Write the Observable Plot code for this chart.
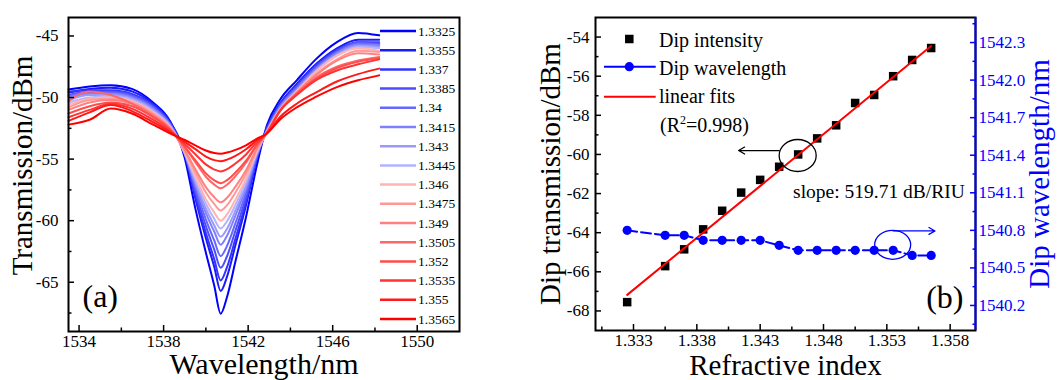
<!DOCTYPE html>
<html><head><meta charset="utf-8">
<script src="https://cdn.jsdelivr.net/npm/d3@7"></script>
<script src="https://cdn.jsdelivr.net/npm/@observablehq/plot@0.6"></script>
<style>
html,body{margin:0;padding:0;background:#fff;}
#wrap{position:relative;width:1063px;height:380px;overflow:hidden;}
#wrap svg{position:absolute;top:0;}
</style></head>
<body><div id="wrap"></div>
<script>
// ---------- Panel (a): transmission spectra ----------
const wavelengthGrid = [1533.5, 1534.5, 1535.5, 1536.5, 1537.5, 1538.3, 1539.0, 1539.5, 1540.0, 1540.4, 1540.7, 1541.0, 1541.4, 1541.9, 1542.4, 1542.9, 1543.5, 1544.3, 1545.2, 1546.2, 1547.2, 1548.2];
const T_13325 = [-49.35, -49.1, -49.0, -49.3, -50.4, -51.9, -54.9, -59.0, -62.6, -65.3, -67.55, -66.2, -63.3, -59.7, -55.6, -52.2, -50.2, -48.6, -46.9, -45.5, -44.75, -44.95];
const T_13355 = [-49.6, -49.3, -49.2, -49.5, -50.5, -51.95, -54.5, -58.17, -61.42, -63.78, -65.71, -64.54, -61.98, -58.75, -55.04, -52.4, -50.5, -48.9, -47.3, -46.0, -45.3, -45.3];
const T_1337  = [-49.5, -49.4, -49.4, -49.7, -50.6, -52.05, -54.56, -57.96, -61.0, -63.16, -64.85, -63.78, -61.46, -58.47, -54.97, -52.45, -50.6, -49.0, -47.4, -46.1, -45.5, -45.5];
const T_13385 = [-49.8, -49.5, -49.5, -49.8, -50.7, -52.1, -54.57, -57.65, -60.44, -62.37, -63.83, -62.89, -60.81, -58.09, -54.88, -52.55, -50.7, -49.1, -47.5, -46.2, -45.5, -45.6];
const T_134   = [-49.9, -49.6, -49.6, -49.9, -50.8, -52.2, -54.56, -57.37, -59.91, -61.63, -62.88, -62.05, -60.2, -57.72, -54.78, -52.6, -50.7, -49.2, -47.6, -46.3, -45.6, -45.7];
const T_13415 = [-50.0, -49.7, -49.7, -50.0, -50.9, -52.2, -54.53, -57.06, -59.38, -60.9, -61.95, -61.22, -59.58, -57.36, -54.66, -52.7, -50.8, -49.3, -47.7, -46.4, -45.7, -45.75];
const T_1343  = [-50.2, -49.8, -49.8, -50.1, -51.0, -52.3, -54.54, -56.87, -59.02, -60.39, -61.3, -60.65, -59.17, -57.12, -54.61, -52.7, -50.9, -49.4, -47.8, -46.5, -45.8, -45.9];
const T_13445 = [-50.4, -50.0, -49.9, -50.2, -51.1, -52.3, -54.5, -56.63, -58.63, -59.87, -60.63, -60.05, -58.72, -56.83, -54.51, -52.7, -51.0, -49.5, -47.9, -46.6, -45.9, -46.0];
const T_1346  = [-50.6, -50.1, -50.0, -50.3, -51.2, -52.4, -54.47, -56.42, -58.25, -59.35, -60.0, -59.49, -58.29, -56.59, -54.43, -52.75, -51.0, -49.5, -47.9, -46.6, -46.0, -46.2];
const T_13475 = [-50.8, -50.2, -50.1, -50.4, -51.3, -52.45, -54.35, -56.07, -57.71, -58.66, -59.18, -58.74, -57.71, -56.2, -54.27, -52.75, -51.0, -49.6, -48.1, -46.9, -46.2, -46.3];
const T_1349  = [-51.0, -50.4, -50.2, -50.5, -51.4, -52.5, -54.28, -55.81, -57.27, -58.1, -58.51, -58.14, -57.24, -55.9, -54.18, -52.8, -51.1, -49.6, -48.2, -47.0, -46.4, -46.5];
const T_13505 = [-50.3, -49.5, -49.8, -50.5, -51.5, -52.55, -54.02, -55.24, -56.43, -57.07, -57.37, -57.08, -56.38, -55.3, -53.9, -52.8, -51.1, -49.7, -48.4, -47.5, -47.0, -46.7];
const T_1352  = [-51.3, -50.7, -50.4, -50.7, -51.6, -52.6, -53.99, -55.09, -56.16, -56.73, -56.96, -56.71, -56.09, -55.13, -53.86, -52.85, -51.1, -49.7, -48.5, -47.6, -47.1, -46.8];
const T_13535 = [-51.6, -51.0, -50.5, -50.9, -51.8, -52.7, -53.77, -54.6, -55.43, -55.85, -56.0, -55.82, -55.36, -54.62, -53.65, -52.85, -51.1, -49.8, -48.6, -47.8, -47.3, -46.9];
const T_1355  = [-51.9, -51.2, -50.6, -51.1, -52.0, -52.8, -53.6, -54.19, -54.79, -55.08, -55.17, -55.04, -54.73, -54.2, -53.49, -52.9, -51.6, -50.5, -49.6, -48.7, -48.1, -47.65];
const T_13565 = [-52.2, -51.8, -50.9, -51.3, -52.2, -52.9, -53.45, -53.88, -54.3, -54.51, -54.56, -54.47, -54.25, -53.88, -53.36, -52.9, -51.8, -50.8, -49.95, -49.15, -48.6, -48.2];
const seriesLabels = ["1.3325","1.3355","1.337","1.3385","1.34","1.3415","1.343","1.3445","1.346","1.3475","1.349","1.3505","1.352","1.3535","1.355","1.3565"];
const xTicksA = [1534, 1538, 1542, 1546, 1550];
const xMinorA = [1536, 1540, 1544, 1548];
const yTicksA = [-45, -50, -55, -60, -65];
const yMinorA = [-47.5, -52.5, -57.5, -62.5, -67.5];

// ---------- Panel (b): dip intensity / wavelength ----------
const refractiveIndex = [1.3325, 1.3355, 1.337, 1.3385, 1.34, 1.3415, 1.343, 1.3445, 1.346, 1.3475, 1.349, 1.3505, 1.352, 1.3535, 1.355, 1.3565];
const dipIntensity = [-67.55, -65.71, -64.85, -63.83, -62.88, -61.95, -61.3, -60.63, -60.0, -59.18, -58.51, -57.37, -56.96, -56.0, -55.17, -54.56];
const dipWavelength = [1540.80, 1540.76, 1540.76, 1540.72, 1540.72, 1540.72, 1540.72, 1540.68, 1540.64, 1540.64, 1540.64, 1540.64, 1540.64, 1540.64, 1540.60, 1540.60];
const fitX = [1.3325, 1.3565];
const fitY = [-67.18, -54.46];
const xTicksB = [1.333, 1.338, 1.343, 1.348, 1.353, 1.358];
const xMinorB = [1.3305, 1.3355, 1.3405, 1.3455, 1.3505, 1.3555];
const yTicksB = [-54, -56, -58, -60, -62, -64, -66, -68];
const yMinorB = [-55, -57, -59, -61, -63, -65, -67];
const yTicksR = [1540.2, 1540.5, 1540.8, 1541.1, 1541.4, 1541.7, 1542.0, 1542.3];
const yMinorR = [1540.05, 1540.35, 1540.65, 1540.95, 1541.25, 1541.55, 1541.85, 1542.15, 1542.45];

// ---------- styles ----------
const seriesColors = ["#0000ff","#1a1aff","#3333ff","#4d4dff","#6666ff","#8080ff","#9999ff","#b3b3ff","#ffb3b3","#ff9999","#ff8080","#ff6666","#ff4d4d","#ff3333","#ff1a1a","#ff0000"];
const FONT = "'Liberation Serif','DejaVu Serif',serif";
const BLUE = "#0000ff";
const xDomainA = [1533.5, 1552], yDomainA = [-69, -43.5];
const xDomainB = [1.330, 1.360], yDomainB = [-69, -53], yDomainR = [1540.0, 1542.5];

const spectra = [T_13325,T_13355,T_1337,T_13385,T_134,T_13415,T_1343,T_13445,T_1346,T_13475,T_1349,T_13505,T_1352,T_13535,T_1355,T_13565];
const specRows = spectra.flatMap((arr, k) => arr.map((t, j) => ({wl: wavelengthGrid[j], t, ri: seriesLabels[k]})));
const intensityRows = refractiveIndex.map((n, i) => ({n, v: dipIntensity[i]}));
const wlRows = refractiveIndex.map((n, i) => ({n, v: dipWavelength[i]}));
const fitRows = fitX.map((x, i) => ({x, y: fitY[i]}));

const wrap = document.getElementById("wrap");
const baseStyle = {background: "transparent", fontFamily: FONT, fontSize: "17px", overflow: "visible"};

// ---- Panel (a)
const svgA = Plot.plot({
  width: 530, height: 380,
  marginLeft: 68, marginRight: 71, marginTop: 17, marginBottom: 49,
  style: {...baseStyle, color: "black"},
  x: {domain: xDomainA},
  y: {domain: yDomainA},
  color: {domain: seriesLabels, range: seriesColors},
  marks: [
    Plot.line(specRows, {x: "wl", y: "t", z: "ri", stroke: "ri", curve: "monotone-x", strokeWidth: 2}),
    Plot.frame({stroke: "black", strokeWidth: 2}),
    Plot.axisX({ticks: xTicksA, tickSize: -6, tickPadding: 9, tickFormat: d => String(d), label: null, fontSize: 17, strokeWidth: 1.5}),
    Plot.axisX({ticks: xMinorA, tickSize: -3.5, tickFormat: () => "", label: null, strokeWidth: 1.5}),
    Plot.axisY({ticks: yTicksA, tickSize: -6, tickPadding: 16, tickFormat: d => String(d), label: null, fontSize: 17, strokeWidth: 1.5}),
    Plot.axisY({ticks: yMinorA, tickSize: -3.5, tickFormat: () => "", label: null, strokeWidth: 1.5}),
    Plot.text(["Wavelength/nm"], {frameAnchor: "bottom", textAnchor: "middle", lineAnchor: "bottom", dy: 42, fontSize: 30}),
    Plot.text(["Transmission/dBm"], {frameAnchor: "left", textAnchor: "middle", lineAnchor: "bottom", rotate: -90, dx: -36.5, dy: -9, fontSize: 29}),
    Plot.text(["(a)"], {frameAnchor: "bottom-left", textAnchor: "start", lineAnchor: "bottom", dx: 14, dy: -25, fontSize: 32})
  ]
});
svgA.style.left = "0px";
wrap.appendChild(svgA);
{
  const g = d3.select(svgA).append("g");
  seriesLabels.forEach((lab, k) => {
    const y = 31 + 19.2 * k;
    g.append("line").attr("x1", 380).attr("x2", 416).attr("y1", y).attr("y2", y)
      .attr("stroke", seriesColors[k]).attr("stroke-width", 2.5);
    g.append("text").attr("x", 418).attr("y", y + 4.5).attr("font-size", 13.5)
      .attr("font-family", FONT).attr("text-anchor", "start").attr("fill", "black").text(lab);
  });
}

// ---- Panel (b), left axis
const svgB = Plot.plot({
  width: 533, height: 380,
  marginLeft: 65, marginRight: 88, marginTop: 17, marginBottom: 50,
  style: {...baseStyle, color: "black"},
  x: {domain: xDomainB},
  y: {domain: yDomainB},
  marks: [
    Plot.frame({stroke: "black", strokeWidth: 2}),
    Plot.dot(intensityRows, {x: "n", y: "v", symbol: "square", fill: "black", r: 4.8}),
    Plot.line(fitRows, {x: "x", y: "y", stroke: "#ff0000", strokeWidth: 2}),
    Plot.arrow([{x1: 1.3445, y1: -59.8, x2: 1.3413, y2: -59.8}], {x1: "x1", y1: "y1", x2: "x2", y2: "y2", stroke: "black", strokeWidth: 1.3, headLength: 8}),
    Plot.axisX({ticks: xTicksB, tickSize: -6, tickPadding: 9, tickFormat: d3.format(".3f"), label: null, fontSize: 17, strokeWidth: 1.5}),
    Plot.axisX({ticks: xMinorB, tickSize: -3.5, tickFormat: () => "", label: null, strokeWidth: 1.5}),
    Plot.axisY({ticks: yTicksB, tickSize: -6, tickPadding: 12, tickFormat: d => String(d), label: null, fontSize: 17, strokeWidth: 1.5}),
    Plot.axisY({ticks: yMinorB, tickSize: -3.5, tickFormat: () => "", label: null, strokeWidth: 1.5}),
    Plot.text(["Refractive index"], {frameAnchor: "bottom", textAnchor: "middle", lineAnchor: "bottom", dy: 44, fontSize: 29}),
    Plot.text(["Dip transmission/dBm"], {frameAnchor: "left", textAnchor: "middle", lineAnchor: "bottom", rotate: -90, dx: -36, fontSize: 29}),
    Plot.text(["slope: 519.71 dB/RIU"], {x: () => 1.3456, y: () => -62.25, textAnchor: "start", lineAnchor: "bottom", fontSize: 19.5}),
    Plot.text(["(b)"], {frameAnchor: "bottom-right", textAnchor: "end", lineAnchor: "bottom", dx: -12, dy: -23, fontSize: 32})
  ]
});
svgB.style.left = "530px";
wrap.appendChild(svgB);

// ---- Panel (b), right axis
const svgR = Plot.plot({
  width: 533, height: 380,
  marginLeft: 65, marginRight: 88, marginTop: 17, marginBottom: 50,
  style: {...baseStyle, color: BLUE},
  x: {domain: xDomainB, axis: null},
  y: {domain: yDomainR},
  marks: [
    Plot.ruleX([xDomainB[1]], {stroke: BLUE, strokeWidth: 2}),
    Plot.line(wlRows, {x: "n", y: "v", stroke: BLUE, strokeWidth: 2, strokeDasharray: "10,4"}),
    Plot.dot(wlRows, {x: "n", y: "v", fill: BLUE, r: 4.6}),
    Plot.arrow([{x1: 1.3535, y1: 1540.795, x2: 1.3568, y2: 1540.795}], {x1: "x1", y1: "y1", x2: "x2", y2: "y2", stroke: BLUE, strokeWidth: 1.3, headLength: 8}),
    Plot.axisY({anchor: "right", ticks: yTicksR, tickSize: -6, tickPadding: 9, tickFormat: d => d.toFixed(1), label: null, fontSize: 17, strokeWidth: 1.5}),
    Plot.axisY({anchor: "right", ticks: yMinorR, tickSize: -3.5, tickFormat: () => "", label: null, strokeWidth: 1.5}),
    Plot.text(["Dip wavelength/nm"], {frameAnchor: "right", textAnchor: "middle", lineAnchor: "bottom", rotate: -90, dx: 73, fill: BLUE, fontSize: 29})
  ]
});
svgR.style.left = "530px";
wrap.appendChild(svgR);

// annotations in panel (b)
{
  const g = d3.select(svgB).append("g").attr("font-family", FONT).attr("font-size", 20).attr("fill", "black").attr("text-anchor", "start");
  g.append("rect").attr("x", 99.3 - 4.25).attr("y", 39 - 4.25).attr("width", 8.5).attr("height", 8.5).attr("fill", "black");
  g.append("text").attr("x", 129).attr("y", 46.5).text("Dip intensity");
  g.append("line").attr("x1", 74).attr("x2", 125.7).attr("y1", 66.7).attr("y2", 66.7).attr("stroke", BLUE).attr("stroke-width", 2);
  g.append("circle").attr("cx", 99.3).attr("cy", 66.7).attr("r", 4.6).attr("fill", BLUE);
  g.append("text").attr("x", 129).attr("y", 75).text("Dip wavelength");
  g.append("line").attr("x1", 74).attr("x2", 125.7).attr("y1", 96.7).attr("y2", 96.7).attr("stroke", "#ff0000").attr("stroke-width", 2);
  g.append("text").attr("x", 129).attr("y", 103.3).text("linear fits");
  const r2 = g.append("text").attr("x", 130).attr("y", 131.5);
  r2.append("tspan").text("(R");
  r2.append("tspan").attr("font-size", 12).attr("dy", -8).text("2");
  r2.append("tspan").attr("dy", 8).text("=0.998)");
  const sx = svgB.scale("x"), sy = svgB.scale("y");
  g.append("ellipse").attr("cx", sx.apply(1.346)).attr("cy", sy.apply(-60.08)).attr("rx", 18.5).attr("ry", 16)
    .attr("fill", "none").attr("stroke", "black").attr("stroke-width", 1.3);
  const rx = svgR.scale("x"), ry = svgR.scale("y");
  d3.select(svgR).append("ellipse").attr("cx", rx.apply(1.3535)).attr("cy", ry.apply(1540.68)).attr("rx", 18).attr("ry", 14.5)
    .attr("fill", "none").attr("stroke", BLUE).attr("stroke-width", 1.3);
}
</script>
</body></html>
